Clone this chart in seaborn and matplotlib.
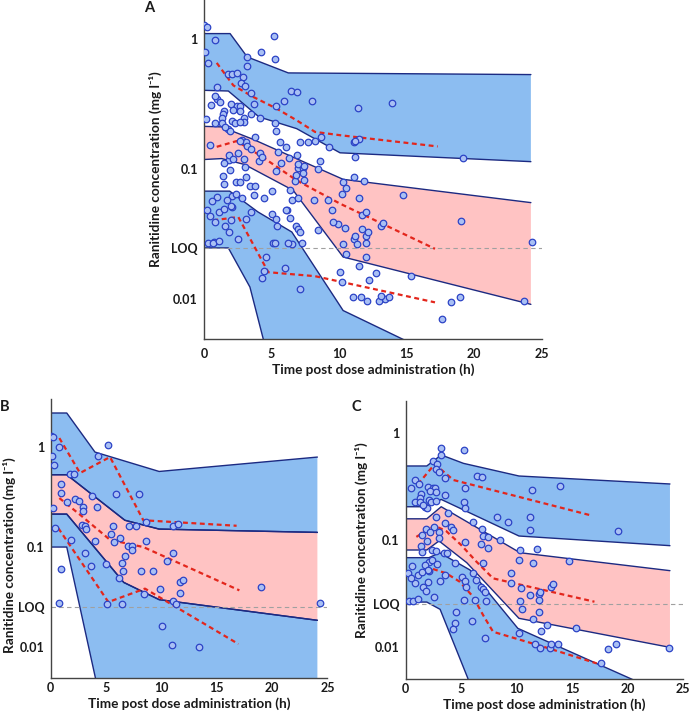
import matplotlib
matplotlib.use("Agg")
import matplotlib.pyplot as plt
import seaborn as sns
import pandas as pd

sns.set_theme(style="white")
plt.rcParams["font.family"] = ["Lato", "DejaVu Sans"]
plt.rcParams["font.weight"] = "bold"

# ---------------- data ----------------
LOQ = 0.025
X_TICKS = [0, 5, 10, 15, 20, 25]
Y_TICKS = [0.01, LOQ, 0.1, 1]
Y_TICK_LABELS = ["0.01", "LOQ", "0.1", "1"]
X_LABEL = "Time post dose administration (h)"
Y_LABEL = "Ranitidine concentration (mg l⁻¹)"

# observed concentrations, subgroup B (time h, conc mg/l)
B_OBS = [(0.00, 1.29), (0.24, 1.24), (0.09, 0.80), (0.30, 0.66), (0.78, 0.99), (5.20, 1.05),
         (4.25, 0.80), (1.75, 0.54), (2.10, 0.54), (0.93, 0.43), (0.93, 0.345), (5.93, 0.337),
         (8.00, 0.337), (1.45, 0.28), (2.20, 0.30), (2.53, 0.29), (3.70, 0.32), (2.95, 0.25),
         (4.16, 0.25), (0.18, 0.243), (2.95, 0.23), (0.42, 0.155), (2.80, 0.167), (3.10, 0.163),
         (3.16, 0.151), (1.84, 0.118), (4.04, 0.115), (5.66, 0.163), (5.45, 0.136), (5.72, 0.112),
         (6.27, 0.122), (7.10, 0.161), (7.70, 0.161), (8.64, 0.176), (8.60, 0.116), (6.96, 0.103),
         (7.35, 0.102), (7.35, 0.094), (6.75, 0.081), (6.40, 0.070), (6.50, 0.058), (6.17, 0.049),
         (5.00, 0.068), (3.67, 0.064), (3.13, 0.087), (0.96, 0.061), (8.13, 0.058), (9.20, 0.058),
         (10.5, 0.072), (11.08, 0.087), (11.08, 0.161), (11.48, 0.17), (11.7, 0.0445), (12.0, 0.047),
         (11.7, 0.035), (9.90, 0.038), (8.46, 0.034), (19.0, 0.040), (0.75, 0.0278), (5.09, 0.0272),
         (6.48, 0.0268), (11.08, 0.029), (11.3, 0.0268), (24.3, 0.0277), (10.06, 0.0164),
         (11.0, 0.0105), (13.43, 0.010)]

# observed concentrations, subgroup C (time h, conc mg/l)
C_OBS = [(3.20, 0.73), (5.25, 0.70), (3.15, 0.62),
         (2.46, 0.551), (2.85, 0.511), (2.76, 0.464), (3.00, 0.437), (3.51, 0.384), (0.81, 0.365),
         (1.17, 0.332), (0.51, 0.310), (2.01, 0.316), (2.46, 0.305), (2.67, 0.305), (2.16, 0.288),
         (2.70, 0.280), (3.51, 0.264), (1.41, 0.268), (1.32, 0.249), (0.81, 0.229), (1.32, 0.229),
         (2.10, 0.237), (2.31, 0.229), (2.70, 0.232), (1.74, 0.205), (1.92, 0.198), (1.56, 0.213),
         (5.32, 0.305), (6.43, 0.401), (6.91, 0.393), (11.41, 0.294), (13.93, 0.321), (5.23, 0.229),
         (5.32, 0.198), (8.20, 0.165), (9.25, 0.149), (11.17, 0.165), (11.17, 0.124), (19.16, 0.122),
         (2.70, 0.165), (3.81, 0.178), (3.51, 0.143), (4.11, 0.133), (4.26, 0.124), (2.55, 0.133),
         (1.86, 0.128), (2.16, 0.120), (2.97, 0.120), (3.00, 0.105), (1.50, 0.111), (5.32, 0.0964),
         (6.07, 0.149), (6.88, 0.128), (6.97, 0.109), (7.42, 0.107), (8.47, 0.100), (6.82, 0.091),
         (7.42, 0.0835), (1.92, 0.098), (1.41, 0.0885), (1.50, 0.0778), (2.40, 0.0806), (2.70, 0.0794),
         (3.42, 0.075), (3.75, 0.075), (2.10, 0.0626), (1.71, 0.0583), (2.07, 0.0513), (4.41, 0.0604),
         (6.97, 0.0604), (10.27, 0.0806), (10.21, 0.065), (11.47, 0.0604), (11.86, 0.0818),
         (14.74, 0.0635), (9.46, 0.0487), (9.52, 0.0392), (10.42, 0.0352), (11.17, 0.0305),
         (12.01, 0.031), (12.13, 0.0328), (13.12, 0.0365), (13.27, 0.0384), (10.27, 0.0268),
         (10.51, 0.0224), (11.98, 0.0274), (11.98, 0.0213), (11.47, 0.0182), (12.76, 0.016),
         (15.30, 0.0151), (12.22, 0.014),
         (0.21, 0.0487), (1.11, 0.047), (0.81, 0.0392), (2.01, 0.0523), (2.01, 0.0407), (1.56, 0.0365),
         (1.86, 0.0332), (2.52, 0.0294), (3.12, 0.0413), (3.51, 0.047), (5.05, 0.0453), (5.32, 0.0413),
         (5.41, 0.0365), (6.07, 0.0487), (6.37, 0.0422), (6.82, 0.0365), (6.97, 0.0347), (7.12, 0.0328),
         (7.27, 0.027), (6.22, 0.0274), (5.26, 0.0274), (0.30, 0.027), (0.66, 0.027), (1.11, 0.028),
         (4.56, 0.0213), (6.00, 0.0175), (4.41, 0.0166), (4.26, 0.0147), (7.12, 0.0121),
         (10.21, 0.0135), (11.62, 0.0105), (12.07, 0.0098), (12.97, 0.0098), (13.12, 0.0107),
         (17.60, 0.0071), (13.70, 0.0105), (18.26, 0.0095), (18.95, 0.0105), (23.70, 0.0098),
         (0.60, 0.057), (2.40, 0.065), (2.80, 0.060), (0.45, 0.044), (1.50, 0.050)]

# ---- panel A prediction intervals (edges: time, conc) ----
A_HI_TOP_T = [0, 1.93, 3.2, 6.24, 24.2]
A_HI_TOP_Y = [1.105, 1.105, 0.731, 0.551, 0.535]
A_HI_BOT_T = [0, 1.8, 4.07, 6.86, 10.07, 24.2]
A_HI_BOT_Y = [0.405, 0.40, 0.253, 0.2055, 0.134, 0.1146]
A_MED_TOP_T = [0, 1.3, 3.7, 6.6, 10.3, 24.2]
A_MED_TOP_Y = [0.214, 0.212, 0.169, 0.124, 0.0838, 0.0555]
A_MED_BOT_T = [0, 1.3, 3.0, 6.6, 10.3, 24.2]
A_MED_BOT_Y = [0.119, 0.121, 0.109, 0.069, 0.0212, 0.00917]
A_LO_TOP_T = [0, 1.9, 4.0, 6.5, 10.3, 14.8, 24.2]
A_LO_TOP_Y = [0.068, 0.068, 0.047, 0.033, 0.00822, 0.0049, 0.00166]
A_LO_BOT_T = [0, 1.8, 3.4, 4.4, 5.0, 24.2]
A_LO_BOT_Y = [0.0249, 0.0249, 0.01245, 0.0049, 0.0028, 0.0005]
# panel A observed percentiles
A_OBS_HI_T = [0.94, 2.17, 3.65, 5.38, 6.86, 8.22, 10.07, 17.3]
A_OBS_HI_Y = [0.658, 0.442, 0.36, 0.293, 0.238, 0.194, 0.183, 0.150]
A_OBS_MED_T = [0.94, 2.42, 4.15, 6.86, 10.07, 17.1]
A_OBS_MED_Y = [0.149, 0.165, 0.128, 0.0823, 0.0545, 0.0245]
A_OBS_LO_T = [0.69, 2.54, 4.76, 8.22, 17.1]
A_OBS_LO_Y = [0.0406, 0.043, 0.0162, 0.0151, 0.0095]

# ---- panel B ----
B_HI_TOP_T = [0, 1.45, 4.0, 9.8, 24.1]
B_HI_TOP_Y = [2.17, 2.17, 0.885, 0.567, 0.789]
B_HI_BOT_T = [0, 1.45, 6.7, 9.8, 24.1]
B_HI_BOT_Y = [0.526, 0.526, 0.185, 0.151, 0.140]
B_MED_TOP_T = [0, 1.45, 6.7, 9.8, 24.1]
B_MED_TOP_Y = [0.526, 0.526, 0.185, 0.151, 0.140]
B_MED_BOT_T = [0, 1.45, 6.6, 9.8, 24.1]
B_MED_BOT_Y = [0.213, 0.213, 0.0444, 0.0299, 0.0186]
B_LO_TOP_T = [0, 1.45, 6.6, 9.8, 24.1]
B_LO_TOP_Y = [0.213, 0.213, 0.0444, 0.0299, 0.0186]
B_LO_BOT_T = [0, 1.45, 4.05, 4.3, 24.1]
B_LO_BOT_Y = [0.1, 0.1, 0.0049, 0.001, 0.001]
B_OBS_HI_T = [0.78, 2.65, 5.36, 8.37, 16.8]
B_OBS_HI_Y = [1.22, 0.547, 0.79, 0.185, 0.163]
B_OBS_MED_T = [0.78, 2.65, 5.36, 8.37, 17.05]
B_OBS_MED_Y = [0.308, 0.21, 0.118, 0.1, 0.037]
B_OBS_LO_T = [0.69, 5.21, 8.52, 16.96]
B_OBS_LO_Y = [0.154, 0.0283, 0.0385, 0.0108]

# ---- panel C ----
C_HI_TOP_T = [0, 1.9, 3.2, 5.2, 10.2, 23.8]
C_HI_TOP_Y = [0.494, 0.494, 0.627, 0.523, 0.398, 0.335]
C_HI_BOT_T = [0, 1.9, 3.2, 10.2, 23.8]
C_HI_BOT_Y = [0.205, 0.205, 0.240, 0.109, 0.0885]
C_MED_TOP_T = [0, 1.9, 3.2, 10.3, 23.8]
C_MED_TOP_Y = [0.158, 0.158, 0.205, 0.076, 0.0516]
C_MED_BOT_T = [0, 1.9, 3.0, 5.5, 10.2, 23.8]
C_MED_BOT_Y = [0.0806, 0.0806, 0.098, 0.0613, 0.01845, 0.00986]
C_LO_TOP_T = [0, 2.1, 3.05, 5.8, 10.1, 20.2, 23.8]
C_LO_TOP_Y = [0.0683, 0.0683, 0.076, 0.0523, 0.01486, 0.00505, 0.00343]
C_LO_BOT_T = [0, 1.9, 3.1, 5.6, 6.0, 23.8]
C_LO_BOT_Y = [0.0262, 0.0262, 0.0224, 0.00505, 0.003, 0.001]
C_OBS_HI_T = [1.1, 2.6, 3.3, 4.3, 16.6]
C_OBS_HI_Y = [0.333, 0.512, 0.447, 0.365, 0.171]
C_OBS_MED_T = [0.96, 2.61, 3.66, 5.0, 6.37, 7.87, 17.0]
C_OBS_MED_Y = [0.107, 0.136, 0.121, 0.0897, 0.0627, 0.0437, 0.0264]
C_OBS_LO_T = [2.46, 3.66, 4.86, 6.07, 6.97, 7.87, 12.4, 17.2]
C_OBS_LO_Y = [0.0535, 0.0487, 0.0407, 0.0294, 0.0198, 0.0138, 0.010, 0.00698]

# ---------------- style ----------------
BLUE = "#8cbdf1"
PINK = "#ffc3c3"
EDGE = "#1c2a82"
RED = "#e3261c"
PT_FACE = "#a9c0f4"
PT_EDGE = "#2c43c6"
FS_TICK = 9.0
FS_LAB = 9.8

fig = plt.figure(figsize=(6.89, 7.15), dpi=100)
axA = fig.add_axes([0.2961, 0.5264, 0.4901, 0.4735])
axB = fig.add_axes([0.0736, 0.0524, 0.4015, 0.3897])
axC = fig.add_axes([0.5888, 0.0506, 0.4029, 0.3883])


def band(ax, tt, ty, bt, by, color):
    ax.fill(list(tt) + list(bt)[::-1], list(ty) + list(by)[::-1],
            color=color, lw=0, zorder=1)
    ax.plot(tt, ty, color=EDGE, lw=1.0, zorder=2)
    ax.plot(bt, by, color=EDGE, lw=1.0, zorder=2)


def obs_line(ax, t, y):
    df = pd.DataFrame({"t": t, "y": y})
    sns.lineplot(data=df, x="t", y="y", ax=ax, color=RED, lw=1.6,
                 estimator=None, sort=False, zorder=3, dashes=False)
    ax.lines[-1].set_dashes([2.2, 1.6])


def panel(ax, bands, lines, obs, ymax, label_x, label_y, xpad):
    for b in bands:
        band(ax, *b)
    ax.axhline(LOQ, color="#a0a0a0", lw=0.8, ls=(0, (4, 3)), zorder=2.5)
    for t, y in lines:
        obs_line(ax, t, y)
    df = pd.DataFrame(obs, columns=["t", "c"])
    sns.scatterplot(data=df, x="t", y="c", ax=ax, s=22, color=PT_FACE,
                    edgecolor=PT_EDGE, linewidth=0.9, zorder=4, legend=False)
    ax.set_yscale("log")
    ax.set_xlim(0, 25)
    ax.set_ylim(0.005, ymax)
    ax.set_xticks(X_TICKS)
    ax.set_xticklabels([str(v) for v in X_TICKS], fontsize=FS_TICK, fontweight="bold")
    ax.set_yticks(Y_TICKS)
    ax.set_yticklabels(Y_TICK_LABELS, fontsize=FS_TICK, fontweight="bold")
    ax.minorticks_off()
    ax.tick_params(axis="both", direction="in", length=3, width=0.8, color="#444444",
                   labelcolor="#1a1a1a")
    ax.tick_params(axis="x", pad=xpad)
    ax.tick_params(axis="y", pad=4.5)
    for s in ["top", "right"]:
        ax.spines[s].set_visible(False)
    for s in ["left", "bottom"]:
        ax.spines[s].set_color("#444444")
        ax.spines[s].set_linewidth(1.0)
    ax.set_xlabel(X_LABEL, fontsize=FS_LAB, fontweight="bold", color="#1a1a1a", labelpad=2.5)
    ax.set_ylabel(Y_LABEL, fontsize=FS_LAB, fontweight="bold", color="#1a1a1a")
    ax.yaxis.set_label_coords(label_x, label_y)
    ax.set_facecolor("white")


panel(axA,
      [(A_HI_TOP_T, A_HI_TOP_Y, A_HI_BOT_T, A_HI_BOT_Y, BLUE),
       (A_MED_TOP_T, A_MED_TOP_Y, A_MED_BOT_T, A_MED_BOT_Y, PINK),
       (A_LO_TOP_T, A_LO_TOP_Y, A_LO_BOT_T, A_LO_BOT_Y, BLUE)],
      [(A_OBS_HI_T, A_OBS_HI_Y), (A_OBS_MED_T, A_OBS_MED_Y), (A_OBS_LO_T, A_OBS_LO_Y)],
      B_OBS + C_OBS, 2.0, -0.124, 0.5, 7)
panel(axB,
      [(B_HI_TOP_T, B_HI_TOP_Y, B_HI_BOT_T, B_HI_BOT_Y, BLUE),
       (B_MED_TOP_T, B_MED_TOP_Y, B_MED_BOT_T, B_MED_BOT_Y, PINK),
       (B_LO_TOP_T, B_LO_TOP_Y, B_LO_BOT_T, B_LO_BOT_Y, BLUE)],
      [(B_OBS_HI_T, B_OBS_HI_Y), (B_OBS_MED_T, B_OBS_MED_Y), (B_OBS_LO_T, B_OBS_LO_Y)],
      B_OBS, 3.0, -0.125, 0.44, 3)
panel(axC,
      [(C_HI_TOP_T, C_HI_TOP_Y, C_HI_BOT_T, C_HI_BOT_Y, BLUE),
       (C_MED_TOP_T, C_MED_TOP_Y, C_MED_BOT_T, C_MED_BOT_Y, PINK),
       (C_LO_TOP_T, C_LO_TOP_Y, C_LO_BOT_T, C_LO_BOT_Y, BLUE)],
      [(C_OBS_HI_T, C_OBS_HI_Y), (C_OBS_MED_T, C_OBS_MED_Y), (C_OBS_LO_T, C_OBS_LO_Y)],
      C_OBS, 2.0, -0.137, 0.5, 3)

for txt, x, y in [("A", 149, 8), ("B", 5, 407), ("C", 356, 407)]:
    fig.text(x / 689, 1 - y / 715, txt, fontsize=10.5, fontweight="bold",
             ha="center", va="center", color="#1a1a1a")

fig.savefig("out.png", dpi=100)
